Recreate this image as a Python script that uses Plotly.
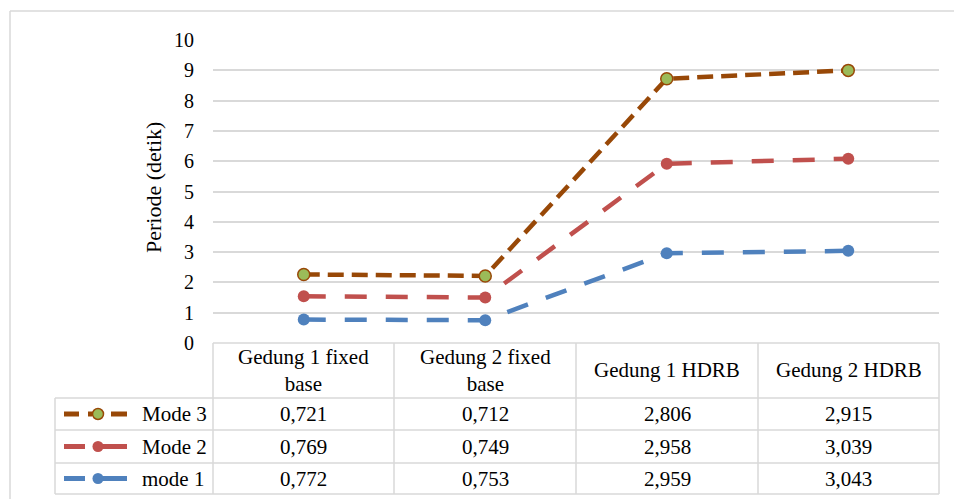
import plotly.graph_objects as go

categories = ["Gedung 1 fixed<br>base", "Gedung 2 fixed<br>base", "Gedung 1 HDRB", "Gedung 2 HDRB"]
mode1 = [0.772, 0.753, 2.959, 3.043]
mode2 = [0.769, 0.749, 2.958, 3.039]
mode3 = [0.721, 0.712, 2.806, 2.915]
y_ticks = list(range(0, 11))

W, H = 954, 499
FONT = "Liberation Serif"
GRID = "#D9D9D9"
BLUE, RED, BROWN, GREEN = "#4F81BD", "#C0504D", "#984807", "#9BBB59"
TS = 21  # table font size

def px(x):
    return x / W

def py(y):
    return 1 - y / H

fig = go.Figure()
series = [
    ("mode 1", mode1, BLUE, BLUE, "22px,19px", 12, 0),
    ("Mode 2", mode2, RED, RED, "22px,19px", 12, 0),
    ("Mode 3", mode3, BROWN, GREEN, "16px,8px", 12, 1.5),
]
for name, vals, lc, mc, dash, ms, mlw in series:
    fig.add_trace(go.Scatter(
        x=categories, y=vals, name=name, stackgroup="one", fill="none",
        mode="lines+markers",
        line=dict(color=lc, width=4.5, dash=dash),
        marker=dict(color=mc, size=ms, line=dict(color=lc, width=mlw)),
        showlegend=False,
    ))

shapes = []
annotations = []
LC = dict(color=GRID, width=1.5)
shapes.append(dict(type="line", xref="paper", yref="paper", x0=px(10), x1=px(954), y0=py(11), y1=py(11), line=LC))
shapes.append(dict(type="line", xref="paper", yref="paper", x0=px(10), x1=px(10), y0=py(11), y1=py(499), line=LC))

col_x = [213, 394, 576, 758, 939]
row_y = [343, 398, 430, 463, 494]
leg_left = 55
shapes.append(dict(type="line", xref="paper", yref="paper", x0=px(213), x1=px(939), y0=py(343), y1=py(343), line=LC))
for yy in row_y[1:]:
    shapes.append(dict(type="line", xref="paper", yref="paper", x0=px(leg_left), x1=px(939), y0=py(yy), y1=py(yy), line=LC))
shapes.append(dict(type="line", xref="paper", yref="paper", x0=px(leg_left), x1=px(leg_left), y0=py(398), y1=py(494), line=LC))
for xx in col_x:
    shapes.append(dict(type="line", xref="paper", yref="paper", x0=px(xx), x1=px(xx), y0=py(343), y1=py(494), line=LC))

for i, cat in enumerate(categories):
    cx = (col_x[i] + col_x[i + 1]) / 2
    annotations.append(dict(xref="paper", yref="paper", x=px(cx), y=py(370), text=cat, showarrow=False,
                            font=dict(family=FONT, size=TS, color="#000"), xanchor="center", yanchor="middle"))

rows = [("Mode 3", mode3, BROWN, GREEN), ("Mode 2", mode2, RED, RED), ("mode 1", mode1, BLUE, BLUE)]
for r, (name, vals, lc, mc) in enumerate(rows):
    cy = (row_y[r + 1] + row_y[r + 2]) / 2
    annotations.append(dict(xref="paper", yref="paper", x=px(140), y=py(cy), text=name, showarrow=False,
                            font=dict(family=FONT, size=TS, color="#000"), xanchor="left", yanchor="middle"))
    for i, v in enumerate(vals):
        cx = (col_x[i] + col_x[i + 1]) / 2
        annotations.append(dict(xref="paper", yref="paper", x=px(cx), y=py(cy), text=f"{v:.3f}".replace(".", ","),
                                showarrow=False, font=dict(family=FONT, size=TS, color="#000"),
                                xanchor="center", yanchor="middle"))
    if name == "Mode 3":
        segs = [(64, 79), (88, 92), (111, 127)]
    else:
        segs = [(64, 85), (97, 127)]
    for a, b in segs:
        shapes.append(dict(type="line", xref="paper", yref="paper", x0=px(a), x1=px(b), y0=py(cy), y1=py(cy),
                           line=dict(color=lc, width=5)))
    rad = 5.5
    shapes.append(dict(type="circle", xref="paper", yref="paper", x0=px(98 - rad), x1=px(98 + rad),
                       y0=py(cy - rad), y1=py(cy + rad), fillcolor=mc,
                       line=dict(color=lc, width=1.5 if name == "Mode 3" else 0)))

annotations.append(dict(xref="paper", yref="paper", x=px(154), y=py(188), text="Periode (detik)", textangle=-90,
                        showarrow=False, font=dict(family=FONT, size=22, color="#000"),
                        xanchor="center", yanchor="middle"))

fig.update_layout(
    width=W, height=H, margin=dict(l=0, r=0, t=0, b=0, autoexpand=False),
    paper_bgcolor="white", plot_bgcolor="white",
    shapes=shapes, annotations=annotations,
    xaxis=dict(type="category", range=[-0.5, 3.5], domain=[px(213), px(939)], showticklabels=False,
               showgrid=False, zeroline=False, showline=False, fixedrange=True, automargin=False),
    yaxis=dict(range=[0, 10], domain=[py(343), py(40)], tickvals=y_ticks, ticktext=[str(t) for t in y_ticks],
               showgrid=True, gridcolor=GRID, gridwidth=1.5, zeroline=False, showline=False,
               ticks="outside", ticklen=14, tickcolor="rgba(0,0,0,0)", automargin=False,
               tickfont=dict(family=FONT, size=20, color="#000"), fixedrange=True),
    hovermode=False,
)

fig.write_html("out.html", config={"displayModeBar": False},
               post_script="document.body.style.margin='0';document.body.style.overflow='hidden';")
